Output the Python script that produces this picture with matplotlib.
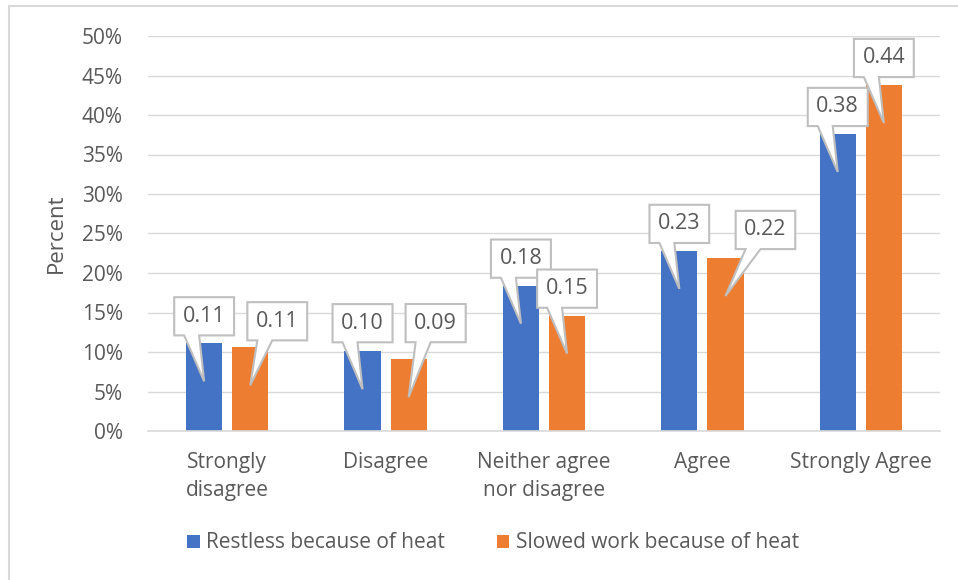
import matplotlib.pyplot as plt
import numpy as np
from matplotlib.ticker import PercentFormatter, MultipleLocator
from matplotlib.patches import Rectangle
from matplotlib.path import Path

categories = ['Strongly\ndisagree', 'Disagree', 'Neither agree\nnor disagree', 'Agree', 'Strongly Agree']
restless = [0.111, 0.101, 0.184, 0.228, 0.376]
slowed = [0.106, 0.091, 0.146, 0.219, 0.438]
series_names = ['Restless because of heat', 'Slowed work because of heat']

# callout box offsets from the pointer tip, in pixels (dx, dy)
offs_restless = [(0, 65), (0, 66), (0, 65), (0, 65), (0, 65)]
offs_slowed = [(27, 64), (27, 74), (0, 65), (40, 66), (0, 65)]

BLUE = '#4472C4'
ORANGE = '#ED7D31'
TXT = '#595959'
plt.rcParams['font.family'] = ['Open Sans', 'DejaVu Sans']


class CalloutBox:
    # rectangle with a wedge pointing back to the anchor point (like excel data callouts)
    def __init__(self, dx, dy, pad=0.4):
        self.dx, self.dy, self.pad = dx, dy, pad

    def __call__(self, x0, y0, width, height, mutation_size):
        p = self.pad * mutation_size
        cx, cy = x0 + width / 2, y0 + height / 2
        tx, ty = cx - self.dx, cy - self.dy
        x0, y0 = x0 - p, y0 - p
        w, h = width + 2 * p, height + 2 * p
        a, b = (7/12, 10/12) if tx > cx else (2/12, 5/12)
        verts = [(x0, y0), (x0 + w * a, y0), (tx, ty), (x0 + w * b, y0),
                 (x0 + w, y0), (x0 + w, y0 + h), (x0, y0 + h), (x0, y0)]
        codes = [Path.MOVETO] + [Path.LINETO] * 6 + [Path.CLOSEPOLY]
        return Path(verts, codes)


fig = plt.figure(figsize=(9.58, 5.8), dpi=100)
ax = fig.add_axes([148/958, 1-431/580, (940-148)/958, (431-36)/580])

x = np.arange(len(categories))
w = 0.228
d = 0.1456
ax.bar(x - d, restless, w, color=BLUE, label=series_names[0], zorder=2)
ax.bar(x + d, slowed, w, color=ORANGE, label=series_names[1], zorder=2)

ax.set_xlim(-0.5, len(categories) - 0.5)
ax.set_ylim(0, 0.5)
ax.yaxis.set_major_locator(MultipleLocator(0.05))
ax.yaxis.set_major_formatter(PercentFormatter(1.0, decimals=0))
ax.grid(axis='y', color='#D9D9D9', lw=1, zorder=0)
ax.set_axisbelow(True)
for s in ['left', 'right', 'top']:
    ax.spines[s].set_visible(False)
ax.spines['bottom'].set_color('#D9D9D9')
ax.spines['bottom'].set_linewidth(1.2)
ax.set_xticks(x)
ax.set_xticklabels(categories, linespacing=1.45)
ax.tick_params(axis='x', length=0, pad=15, labelsize=15, labelcolor=TXT)
ax.tick_params(axis='y', length=0, pad=18, labelsize=15, labelcolor=TXT)
ax.set_ylabel('Percent', fontsize=16, color=TXT, labelpad=11)

tip_drop = 38 / 790  # pointer sits a bit below the bar top


def callout(xpos, val, off):
    ax.annotate(f'{val:.2f}', xy=(xpos, val - tip_drop), xycoords='data',
                xytext=(off[0] * 0.72, off[1] * 0.72), textcoords='offset points',
                ha='center', va='center', fontsize=15.5, color=TXT, zorder=5,
                bbox=dict(boxstyle=CalloutBox(off[0], off[1]), fc='white',
                          ec='#BFBFBF', lw=1.5))


for i in range(len(categories)):
    callout(x[i] - d, restless[i], offs_restless[i])
    callout(x[i] + d, slowed[i], offs_slowed[i])

fig.legend(loc='center', bbox_to_anchor=(493/958, 1-543/580), ncol=2, frameon=False,
           fontsize=15, labelcolor=TXT, handlelength=0.6, handleheight=0.6,
           handletextpad=0.3, columnspacing=2.5)

fig.patches.append(Rectangle((9/958, -0.05), 1.0, 1-6/580+0.05, transform=fig.transFigure,
                             fill=False, ec='#D9D9D9', lw=1.5))

fig.savefig('out.png', dpi=100)
